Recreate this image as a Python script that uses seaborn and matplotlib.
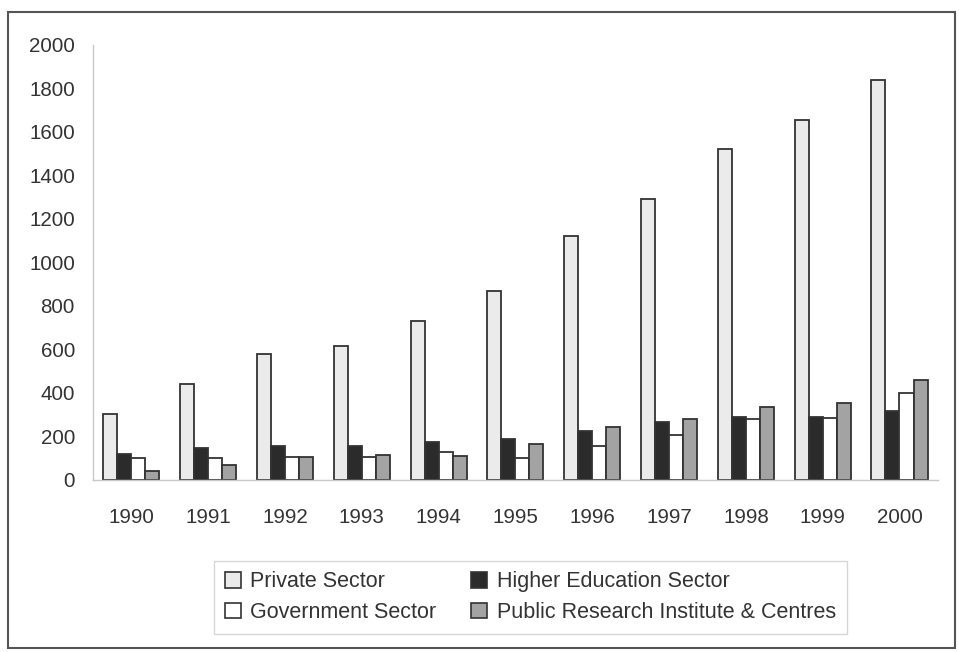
import matplotlib
matplotlib.use("Agg")
import matplotlib.pyplot as plt
import seaborn as sns
import pandas as pd
from matplotlib.patches import Rectangle, Patch

years = ["1990", "1991", "1992", "1993", "1994", "1995", "1996", "1997", "1998", "1999", "2000"]
private_sector = [305, 440, 580, 615, 730, 870, 1120, 1290, 1520, 1655, 1840]
higher_education = [120, 145, 155, 155, 175, 190, 225, 265, 290, 290, 315]
government_sector = [100, 100, 105, 105, 130, 100, 155, 205, 280, 285, 400]
public_research = [40, 70, 105, 115, 110, 165, 245, 280, 335, 355, 460]

series_names = ["Private Sector", "Higher Education Sector", "Government Sector",
                "Public Research Institute & Centres"]
series_values = [private_sector, higher_education, government_sector, public_research]
colors = ["#ebebeb", "#2b2b2b", "#ffffff", "#a3a3a3"]

rows = []
for name, vals in zip(series_names, series_values):
    for y, v in zip(years, vals):
        rows.append({"Year": y, "Sector": name, "Value": v})
df = pd.DataFrame(rows)

sns.set_style("white")
plt.rcParams["font.family"] = ["Liberation Sans", "DejaVu Sans"]

fig = plt.figure(figsize=(9.59, 6.52), dpi=100)
ax = fig.add_axes([0.097, 0.264, 0.881, 0.667])

sns.barplot(data=df, x="Year", y="Value", hue="Sector", order=years,
            hue_order=series_names, palette=colors, width=0.73,
            edgecolor="#333333", linewidth=1.3, saturation=1, ax=ax, legend=False)

ax.set_xlim(-0.5, len(years) - 0.5)
ax.set_ylim(0, 2000)
ax.set_yticks(range(0, 2001, 200))
ax.set_xlabel("")
ax.set_ylabel("")
ax.tick_params(axis="both", labelsize=14.8, colors="#bbbbbb", labelcolor="#333333")
ax.tick_params(axis="y", direction="out", length=4, pad=9)
ax.tick_params(axis="x", length=0, pad=20)
# tick marks at category boundaries
ax.set_xticks([i - 0.5 for i in range(len(years) + 1)], minor=True)
ax.tick_params(axis="x", which="minor", direction="out", length=4, colors="#bbbbbb")
for side in ["top", "right"]:
    ax.spines[side].set_visible(False)
for side in ["left", "bottom"]:
    ax.spines[side].set_color("#c8c8c8")
    ax.spines[side].set_linewidth(1.0)

handles = [Patch(facecolor=c, edgecolor="#333333", linewidth=1.2) for c in colors]
order = [0, 2, 1, 3]
leg = fig.legend([handles[i] for i in order], [series_names[i] for i in order],
                 ncol=2, loc="center", bbox_to_anchor=(0.553, 0.084),
                 fontsize=15.5, frameon=True, fancybox=False,
                 handlelength=0.75, handleheight=0.75, handletextpad=0.45,
                 columnspacing=1.6, labelspacing=0.45, borderpad=0.5)
leg.get_frame().set_edgecolor("#cccccc")
leg.get_frame().set_linewidth(1.0)
for t in leg.get_texts():
    t.set_color("#333333")

fig.patches.append(Rectangle((8 / 959, 1 - 648 / 652), 947 / 959, 636 / 652,
                             transform=fig.transFigure, fill=False,
                             edgecolor="#555555", linewidth=1.5))

fig.savefig("out.png", dpi=100)
